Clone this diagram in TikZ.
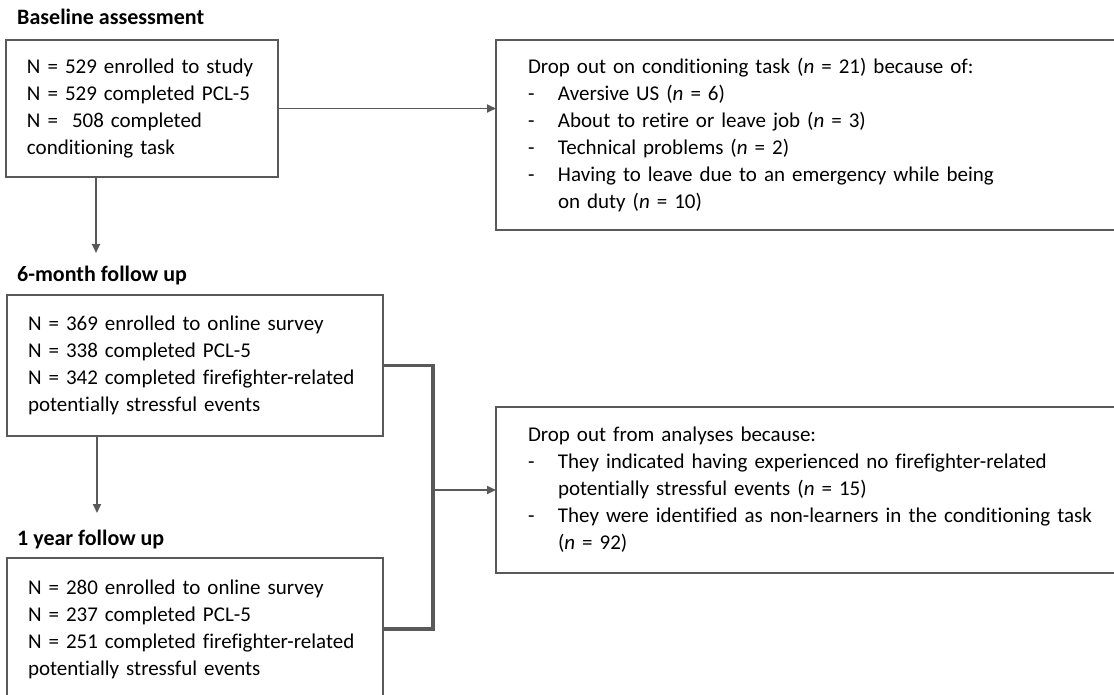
\documentclass[tikz,border=0pt]{standalone}
\usepackage{fontspec}
\setmainfont{Carlito}[Ligatures={NoCommon}]
\usepackage{tikz}
\usetikzlibrary{positioning,arrows.meta}
\usepackage{xcolor}
\definecolor{linegray}{HTML}{595959}
\newcommand{\dropdash}{\makebox[30pt][l]{-}}
\newcommand{\dropindent}{\hspace*{30pt}}

\begin{document}
\begin{tikzpicture}[x=1pt,y=-1pt,
  stagebox/.style={draw=linegray,line width=2.8pt,outer sep=0pt,anchor=north west,inner xsep=21pt,inner ysep=0pt,align=left,font=\fontsize{21}{27}\selectfont},
  dropbox/.style={draw=linegray,line width=2.8pt,outer sep=0pt,anchor=north west,inner xsep=32pt,inner ysep=0pt,align=left,font=\fontsize{21}{27}\selectfont},
  stagetitle/.style={anchor=base west,inner sep=0pt,font=\bfseries\fontsize{22}{26}\selectfont},
  flow/.style={draw=linegray,line width=1.8pt,-{Triangle[length=9pt,width=8pt]}},
  bracket/.style={draw=linegray,line width=3.8pt}]
\useasboundingbox (0,0) rectangle (1114,695);
% stages
\node[stagetitle] (basetitle) at (17,25) {Baseline assessment};
\node[stagebox,minimum width=272,minimum height=137,text width=230] (base) at (6,40)
  {N = 529 enrolled to study\\N = 529 completed PCL-5\\N =\ \ 508 completed\\conditioning task};
\node[stagetitle] (sixtitle) at (17,281) {6-month follow up};
\node[stagebox,minimum width=376,minimum height=141,text width=334] (six) at (7,295)
  {N = 369 enrolled to online survey\\N = 338 completed PCL-5\\N = 342 completed firefighter-related\\potentially stressful events};
\node[stagetitle] (yeartitle) at (17,545) {1 year follow up};
\node[stagebox,minimum width=376,minimum height=142,text width=334] (year) at (7,558)
  {N = 280 enrolled to online survey\\N = 237 completed PCL-5\\N = 251 completed firefighter-related\\potentially stressful events};
% drop outs
\node[dropbox,minimum width=700,minimum height=190,text width=636] (dropcond) at (496,40)
  {Drop out on conditioning task (\textit{n} = 21) because of:\\
   \dropdash Aversive US (\textit{n} = 6)\\
   \dropdash About to retire or leave job (\textit{n} = 3)\\
   \dropdash Technical problems (\textit{n} = 2)\\
   \dropdash Having to leave due to an emergency while being\\
   \dropindent on duty (\textit{n} = 10)};
\node[dropbox,minimum width=700,minimum height=166,text width=636] (dropana) at (496,407)
  {Drop out from analyses because:\\
   \dropdash They indicated having experienced no firefighter-related\\
   \dropindent potentially stressful events (\textit{n} = 15)\\
   \dropdash They were identified as non-learners in the conditioning task\\
   \dropindent (\textit{n} = 92)};
% connectors
\coordinate (down1) at (96,253);
\coordinate (down2) at (97,513);
\coordinate (join) at (433,490);
\draw[flow] (base.east) -- (base.east -| dropcond.west);
\draw[flow] (base.south -| down1) -- (down1);
\draw[flow] (six.south -| down2) -- (down2);
\draw[bracket] (six.east) -- (six.east -| join) -- (year.east -| join) -- (year.east);
\draw[flow] (join) -- (dropana.west);
\end{tikzpicture}
\end{document}
